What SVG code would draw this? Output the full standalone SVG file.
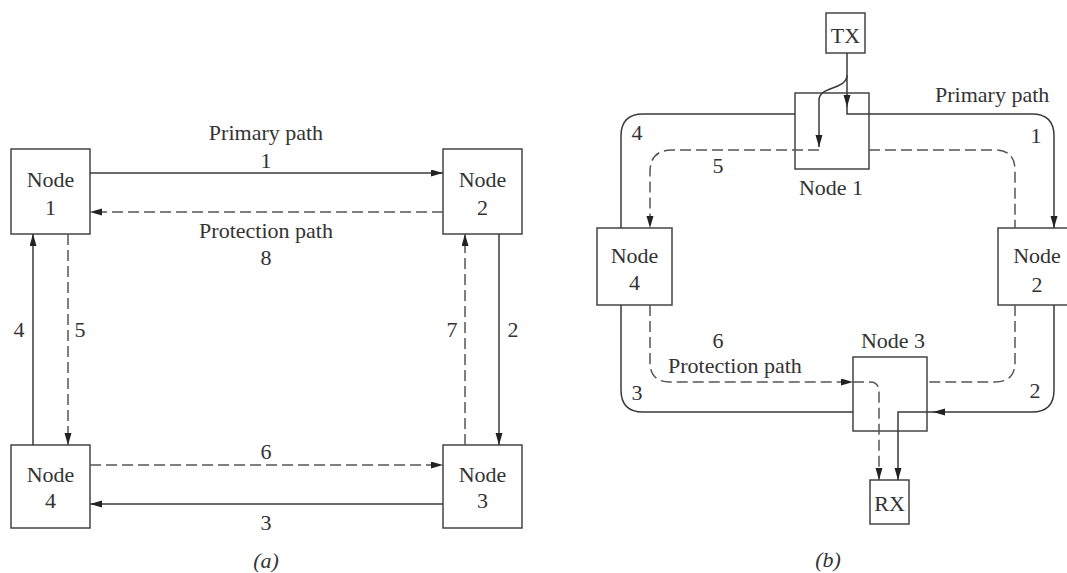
<svg xmlns="http://www.w3.org/2000/svg" width="1067" height="573" viewBox="0 0 1067 573">
<style>
text{font-family:"Liberation Serif","Times New Roman",serif;font-size:22px;fill:#333;text-anchor:middle}
.box{fill:none;stroke:#444;stroke-width:1.5}
.s{fill:none;stroke:#3a3a3a;stroke-width:1.5}
.d{fill:none;stroke:#555;stroke-width:1.5;stroke-dasharray:11,5}
.st{text-anchor:start}
</style>
<defs>
<marker id="ah" markerUnits="userSpaceOnUse" markerWidth="13" markerHeight="8" refX="12" refY="3.5" orient="auto">
<path d="M0,0 L12,3.5 L0,7 Z" fill="#222"/>
</marker>
</defs>
<rect width="1067" height="573" fill="#fff"/>

<!-- Part (a) nodes -->
<g id="a-node1"><rect class="box" x="11" y="149" width="79" height="85"/><text x="50.5" y="187">Node</text><text x="50.5" y="215">1</text></g>
<g id="a-node2"><rect class="box" x="443" y="149" width="79" height="85"/><text x="482.5" y="187">Node</text><text x="482.5" y="215">2</text></g>
<g id="a-node3"><rect class="box" x="443" y="445" width="79" height="83"/><text x="482.5" y="482">Node</text><text x="482.5" y="508">3</text></g>
<g id="a-node4"><rect class="box" x="11" y="445" width="79" height="83"/><text x="50.5" y="482">Node</text><text x="50.5" y="508">4</text></g>

<g id="a-connectors">
<path class="s" d="M90,173 H443" marker-end="url(#ah)"/>
<path class="d" d="M443,212 H90" marker-end="url(#ah)"/>
<path class="s" d="M33,445 V234" marker-end="url(#ah)"/>
<path class="d" d="M68,234 V445" marker-end="url(#ah)"/>
<path class="d" d="M465,445 V234" marker-end="url(#ah)"/>
<path class="s" d="M499,234 V445" marker-end="url(#ah)"/>
<path class="d" d="M90,465 H443" marker-end="url(#ah)"/>
<path class="s" d="M443,504 H90" marker-end="url(#ah)"/>
</g>
<g id="a-labels">
<text x="266" y="140">Primary path</text>
<text x="266" y="168">1</text>
<text x="266" y="238">Protection path</text>
<text x="266" y="265">8</text>
<text x="19" y="337">4</text>
<text x="80" y="337">5</text>
<text x="452" y="337">7</text>
<text x="513" y="337">2</text>
<text x="266" y="459">6</text>
<text x="266" y="530">3</text>
<text x="266" y="568" font-style="italic">(a)</text>
</g>

<!-- Part (b) nodes -->
<g id="b-tx"><rect class="box" x="826" y="13" width="39" height="40"/><text x="845.5" y="43">TX</text></g>
<g id="b-node1"><rect class="box" x="795" y="93" width="74" height="76"/><text x="831" y="195">Node 1</text></g>
<g id="b-node2"><rect class="box" x="998" y="228" width="77" height="77"/><text x="1037" y="263">Node</text><text x="1037" y="292">2</text></g>
<g id="b-node3"><rect class="box" x="853" y="357" width="74" height="74"/><text x="893" y="348">Node 3</text></g>
<g id="b-node4"><rect class="box" x="597" y="228" width="75" height="77"/><text x="634.5" y="263">Node</text><text x="634.5" y="290">4</text></g>
<g id="b-rx"><rect class="box" x="870" y="480" width="39" height="44"/><text x="889.5" y="511">RX</text></g>

<g id="b-connectors">
<path class="s" d="M847,53 V107" marker-end="url(#ah)"/>
<path class="s" d="M847,106 V114 H1032 Q1054,114 1054,136 V228" marker-end="url(#ah)"/>
<path class="s" d="M847,75 C847,90 819,86 819,100 V147" marker-end="url(#ah)"/>
<path class="s" d="M795,114 H643 Q621,114 621,136 V228"/>
<path class="s" d="M621,305 V390 Q621,412 643,412 H853"/>
<path class="s" d="M1054,305 V390 Q1054,412 1032,412 H933" marker-end="url(#ah)"/>
<path class="s" d="M934,412 H898 V480" marker-end="url(#ah)"/>
<path class="d" d="M819,150 H672 Q650,150 650,172 V228" marker-end="url(#ah)"/>
<path class="d" d="M869,150 H995 Q1015,150 1015,170 V228"/>
<path class="d" d="M1015,305 V362 Q1015,382 995,382 H927"/>
<path class="d" d="M650,305 V362 Q650,382 670,382 H853" marker-end="url(#ah)"/>
<path class="d" d="M853,382 H870 Q879,382 879,392 V480" marker-end="url(#ah)"/>
</g>
<g id="b-labels">
<text class="st" x="935" y="102">Primary path</text>
<text x="1036" y="143">1</text>
<text x="637" y="140">4</text>
<text x="718" y="173">5</text>
<text x="718" y="348">6</text>
<text class="st" x="668" y="373">Protection path</text>
<text x="637" y="400">3</text>
<text x="1035" y="398">2</text>
<text x="828" y="567" font-style="italic">(b)</text>
</g>
</svg>
